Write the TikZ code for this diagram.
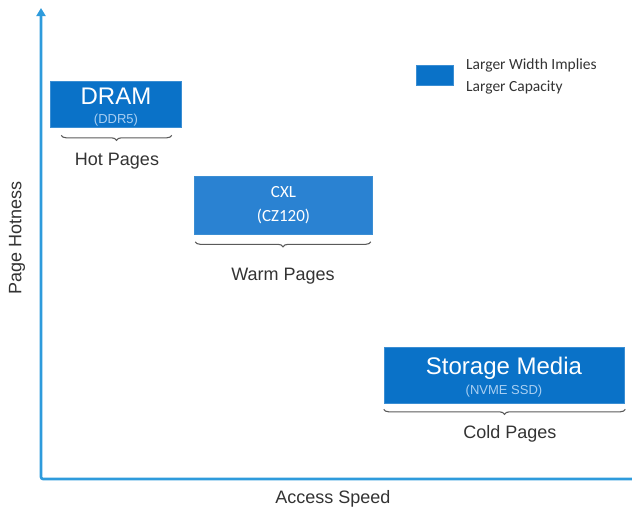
\documentclass[tikz,border=0pt]{standalone}
\usepackage{fontspec}
\setmainfont{Liberation Sans}
\newfontfamily\calibfont{Carlito}
\usepackage{tikz}
\usetikzlibrary{positioning,decorations.pathreplacing,arrows.meta}
\definecolor{tierblue}{HTML}{0A72C8}
\definecolor{cxlblue}{HTML}{2A82D2}
\definecolor{axisblue}{HTML}{2E9BDC}
\definecolor{subblue}{HTML}{A9CFF2}
\definecolor{bracegray}{HTML}{5A5A5A}
\definecolor{labelgray}{HTML}{333333}

\begin{document}
\begin{tikzpicture}[x=1pt,y=-1pt,>={Triangle[width=9pt,length=8pt]},
  tier/.style={draw=tierblue!80!white,fill=tierblue,inner sep=0pt,line width=0.6pt},
  tiername/.style={text=white,inner sep=0pt,font=\fontsize{24}{24}\selectfont},
  tiersub/.style={text=subblue,inner sep=0pt,font=\fontsize{13}{14}\selectfont},
  pagebrace/.style={draw=bracegray,line width=1.1pt,decorate,
    decoration={brace,mirror,amplitude=5pt}},
  pagelabel/.style={text=labelgray,inner sep=0pt,font=\fontsize{18}{20}\selectfont}]
\useasboundingbox (0,0) rectangle (632,512);
% axes
\draw[axisblue,line width=2.6pt,rounded corners=2pt,->] (632,479) -- (41,479) -- (41,8);
\node[pagelabel,rotate=90] (hotness) at (17,238) {Page Hotness};
\node[pagelabel] (speed) at (333,499) {Access Speed};
% DRAM tier
\node[tier,minimum width=131pt,minimum height=46pt] (dram) at (116,104) {};
\node[tiername] (dramname) at (116,96) {DRAM};
\node[tiersub] (dramsub) at (116,120) {(DDR5)};
\draw[pagebrace] ([xshift=11pt,yshift=-8pt]dram.south west) -- ([xshift=-10pt,yshift=-8pt]dram.south east);
\node[pagelabel] (hot) at (117,161) {Hot Pages};
% CXL tier
\node[tier,fill=cxlblue,minimum width=178pt,minimum height=58pt] (cxl) at (283.5,205.5) {};
\node[text=white,inner sep=0pt,font=\calibfont\fontsize{17}{24}\selectfont,align=center] (cxlname) at (283.5,205) {CXL\\(CZ120)};
\draw[pagebrace] ([xshift=1pt,yshift=-7pt]cxl.south west) -- ([xshift=-2pt,yshift=-7pt]cxl.south east);
\node[pagelabel] (warm) at (283,276) {Warm Pages};
% storage tier
\node[tier,minimum width=240pt,minimum height=56pt] (storage) at (504,375) {};
\node[tiername] (storagename) at (504,368) {Storage Media};
\node[tiersub] (storagesub) at (504,391) {(NVME SSD)};
\draw[pagebrace] ([xshift=0pt,yshift=-6pt]storage.south west) -- ([xshift=1pt,yshift=-6pt]storage.south east);
\node[pagelabel] (cold) at (510,434) {Cold Pages};
% legend
\node[tier,minimum width=37pt,minimum height=20pt] (key) at (435,75) {};
\node[text=labelgray,anchor=west,align=left,inner sep=0pt,
  font=\calibfont\fontsize{15.5}{22}\selectfont] (keytext) at (466,76) {Larger Width Implies\\Larger Capacity};
\end{tikzpicture}
\end{document}
